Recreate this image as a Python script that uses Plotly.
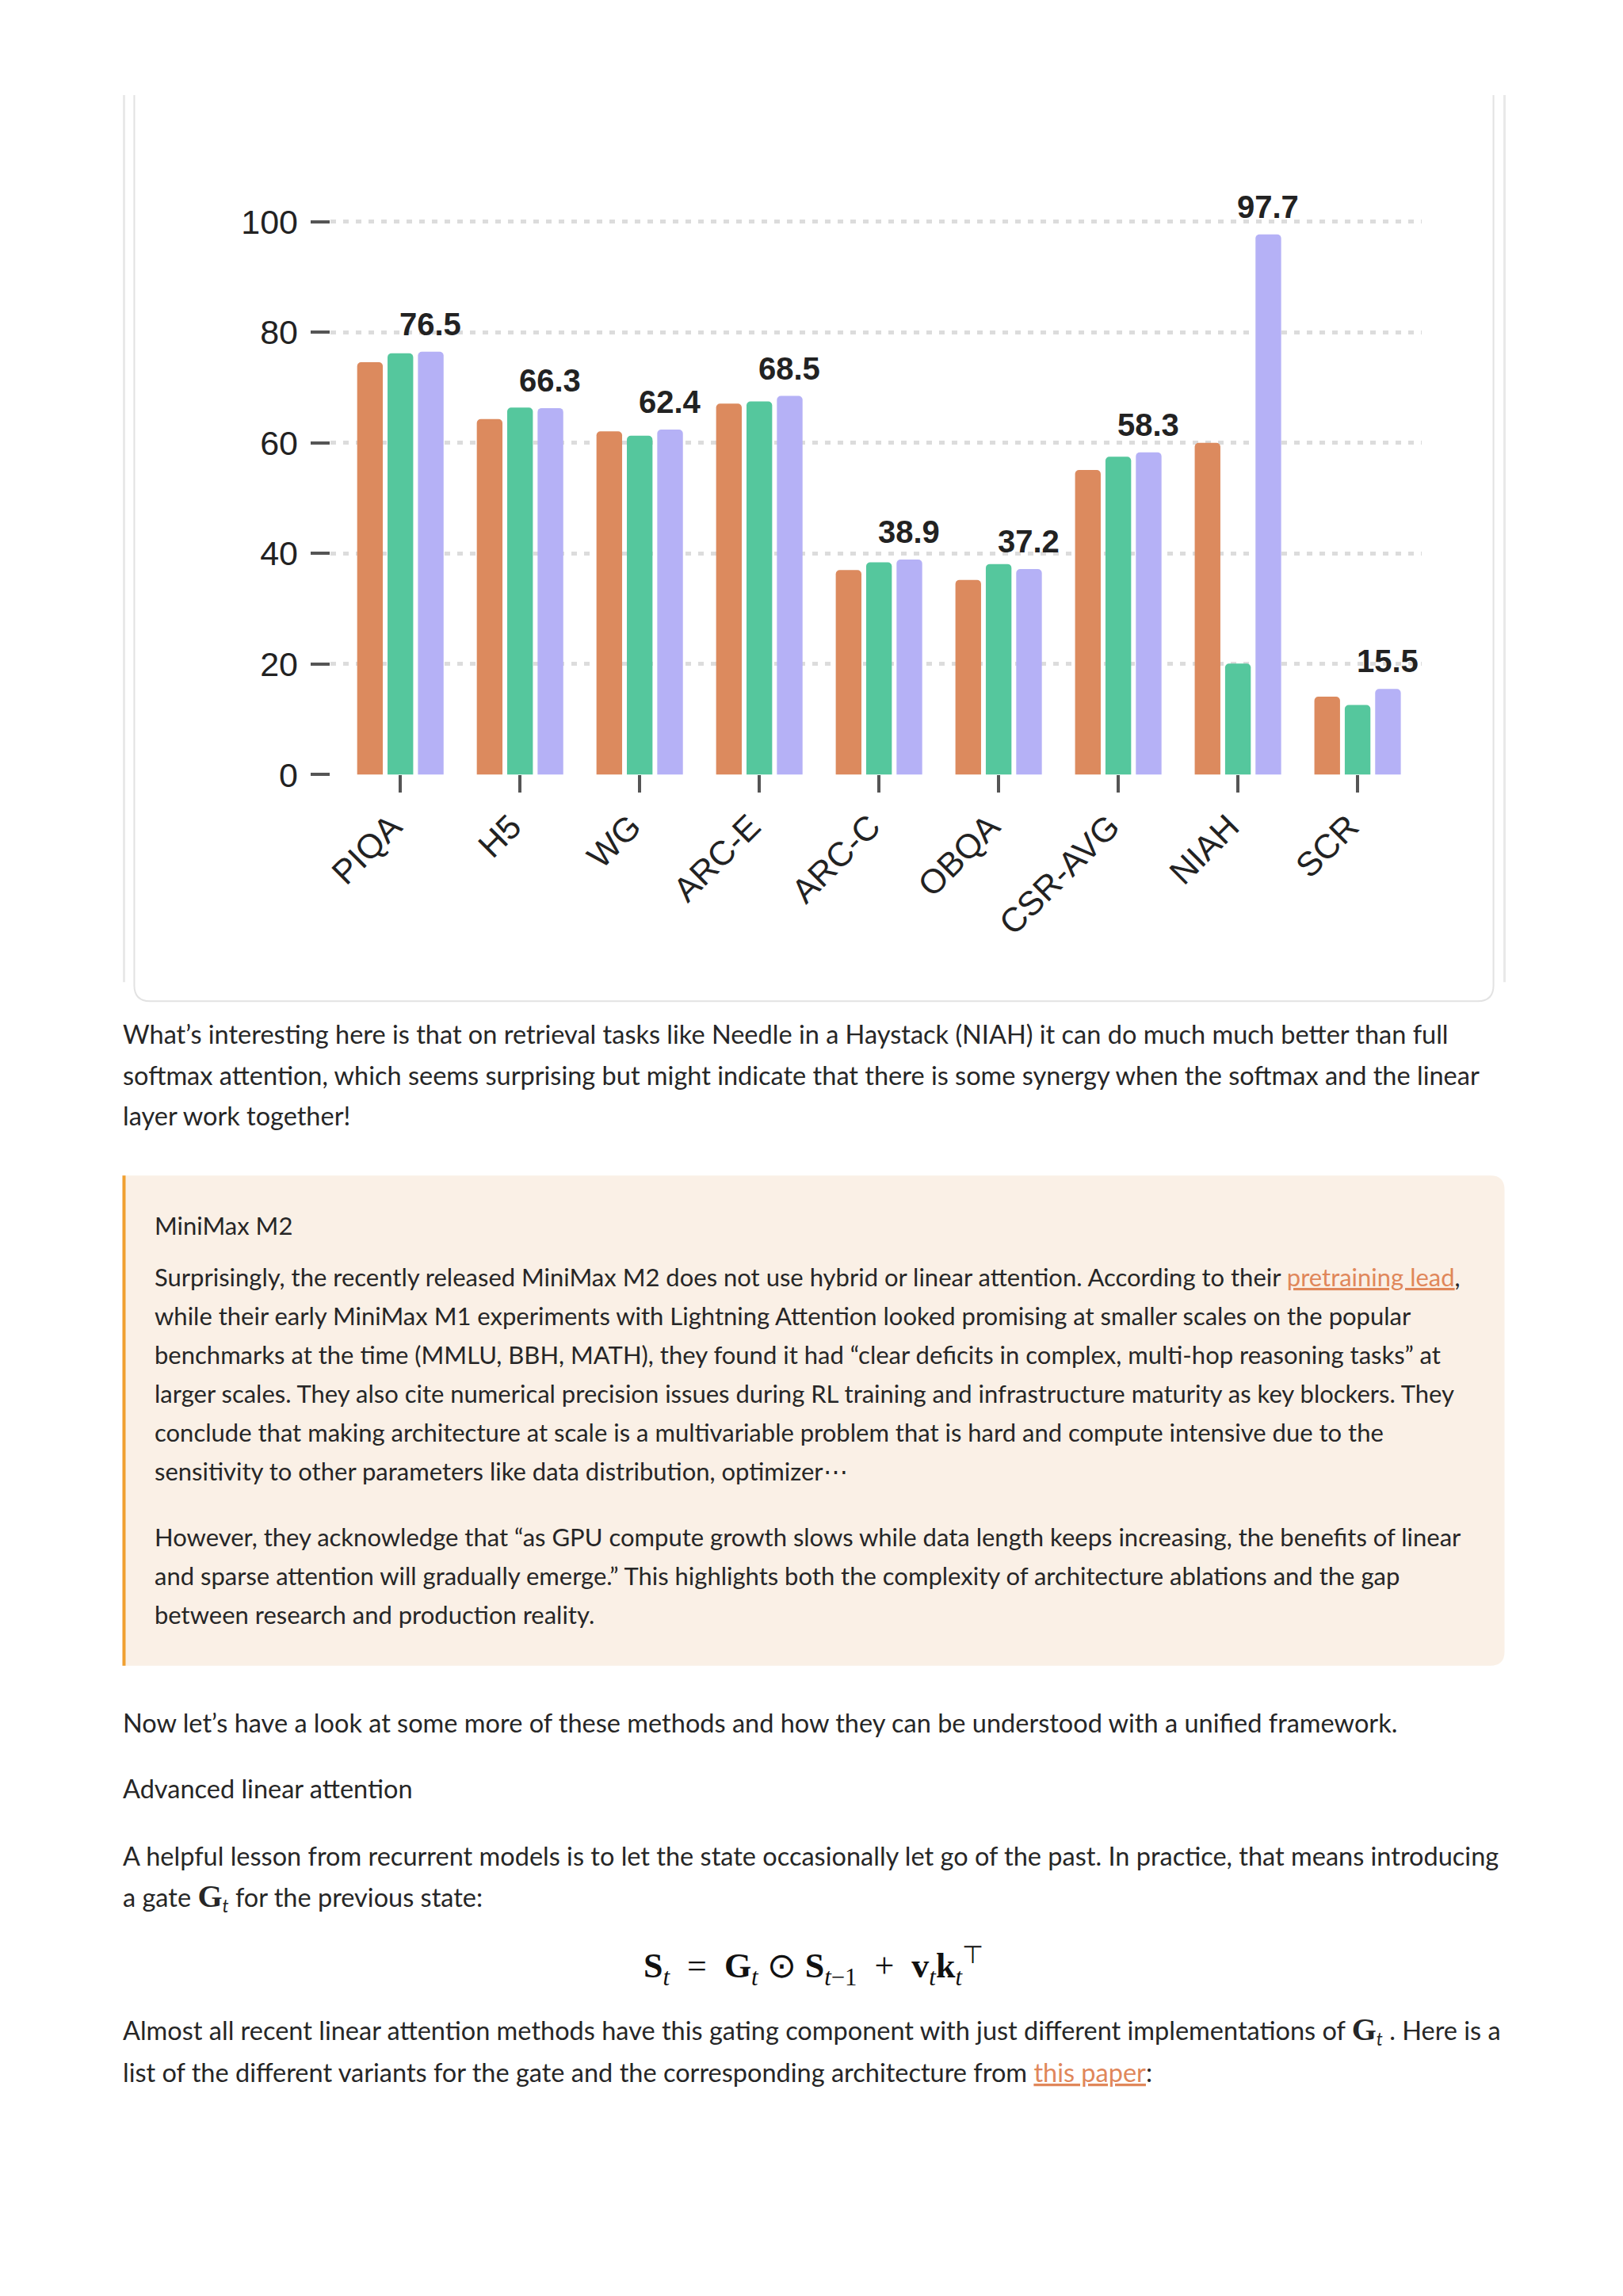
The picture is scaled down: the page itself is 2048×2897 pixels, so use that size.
import plotly.graph_objects as go

# ---------------- data ----------------
categories = ["PIQA", "H5", "WG", "ARC-E", "ARC-C", "OBQA", "CSR-AVG", "NIAH", "SCR"]
series_orange = [74.6, 64.3, 62.1, 67.1, 37.0, 35.2, 55.1, 60.0, 14.1]
series_green = [76.2, 66.4, 61.3, 67.5, 38.4, 38.1, 57.5, 20.1, 12.6]
series_purple = [76.5, 66.3, 62.4, 68.5, 38.9, 37.2, 58.3, 97.7, 15.5]
y_ticks = [0, 20, 40, 60, 80, 100]

W, H = 2048, 2897
KY = 1.0078  # vertical calibration
ORANGE = "#DC8A5E"
GREEN = "#55C79D"
PURPLE = "#B5B1F6"
TEXT = "#262626"
LINK = "#E0875A"
BODY_FONT = "Lato"
BODY_SIZE = 32.5
BOX_SIZE = 31


def px(x):
    return x / W


def py(y):
    return 1 - y * KY / H


fig = go.Figure()
for name, vals, col in [("orange", series_orange, ORANGE),
                        ("green", series_green, GREEN),
                        ("purple", series_purple, PURPLE)]:
    fig.add_trace(go.Bar(x=categories, y=vals, name=name, marker=dict(color=col, line=dict(width=0)),
                         hoverinfo="x+y"))

# value labels on purple series
for c, v in zip(categories, series_purple):
    fig.add_annotation(x=c, y=v, xref="x", yref="y", text=f"{v:.1f}", showarrow=False,
                       xanchor="center", yanchor="bottom", xshift=38, yshift=11,
                       font=dict(family="Liberation Sans", size=40, color="#222222", weight="bold"))

shapes = []
# card outline (outer faint lines + inner border)
shapes.append(dict(type="line", xref="paper", yref="paper", x0=px(150), x1=px(150), y0=py(120), y1=py(1240),
                   line=dict(color="#E9E9E9", width=3), layer="below"))
shapes.append(dict(type="line", xref="paper", yref="paper", x0=px(1898), x1=px(1898), y0=py(120), y1=py(1240),
                   line=dict(color="#E9E9E9", width=3), layer="below"))
card = (f"M {px(163)},{py(120)} L {px(163)},{py(1244)} Q {px(163)},{py(1264)} {px(183)},{py(1264)} "
        f"L {px(1864)},{py(1264)} Q {px(1884)},{py(1264)} {px(1884)},{py(1244)} L {px(1884)},{py(120)}")
shapes.append(dict(type="path", xref="paper", yref="paper", path=card,
                   line=dict(color="#E2E2E2", width=2), layer="below"))
# callout box
box = (f"M {px(148)},{py(1484)} L {px(1880)},{py(1484)} Q {px(1898)},{py(1484)} {px(1898)},{py(1502)} "
       f"L {px(1898)},{py(2085)} Q {px(1898)},{py(2103)} {px(1880)},{py(2103)} L {px(148)},{py(2103)} Z")
shapes.append(dict(type="path", xref="paper", yref="paper", path=box, fillcolor="#FAF0E6",
                   line=dict(width=0), layer="below"))
shapes.append(dict(type="rect", xref="paper", yref="paper", x0=px(148), x1=px(152), y0=py(1484), y1=py(2103),
                   fillcolor="#F0A030", line=dict(width=0), layer="below"))


def link(t):
    return (f"<span style='color:{LINK};text-decoration:underline;"
            f"text-decoration-color:#BBBBBB'>{t}</span>")


def G():
    return ("<span style='font-family:Liberation Serif;font-weight:bold;font-size:40px'>G</span>"
            "<sub><i>t</i></sub>")


para = [
    (147, 1305, "What’s interesting here is that on retrieval tasks like Needle in a Haystack (NIAH) it can do much much better than full"),
    (147, 1357, "softmax attention, which seems surprising but might indicate that there is some synergy when the softmax and the linear"),
    (147, 1408, "layer work together!"),
    (147, 2175, "Now let’s have a look at some more of these methods and how they can be understood with a unified framework."),
    (147, 2258, "Advanced linear attention"),
    (147, 2343, "A helpful lesson from recurrent models is to let the state occasionally let go of the past. In practice, that means introducing"),
    (147, 2395, "a gate " + G() + " for the previous state:"),
    (147, 2563, "Almost all recent linear attention methods have this gating component with just different implementations of "
     + G() + " . Here is a"),
    (147, 2616, "list of the different variants for the gate and the corresponding architecture from " + link("this paper") + ":"),
]
callout = [
    (187, 1547, "MiniMax M2"),
    (187, 1612, "Surprisingly, the recently released MiniMax M2 does not use hybrid or linear attention. According to their "
     + link("pretraining lead") + ","),
    (187, 1661, "while their early MiniMax M1 experiments with Lightning Attention looked promising at smaller scales on the popular"),
    (187, 1710, "benchmarks at the time (MMLU, BBH, MATH), they found it had “clear deficits in complex, multi-hop reasoning tasks” at"),
    (187, 1759, "larger scales. They also cite numerical precision issues during RL training and infrastructure maturity as key blockers. They"),
    (187, 1808, "conclude that making architecture at scale is a multivariable problem that is hard and compute intensive due to the"),
    (187, 1857, "sensitivity to other parameters like data distribution, optimizer⋯"),
    (187, 1940, "However, they acknowledge that “as GPU compute growth slows while data length keeps increasing, the benefits of linear"),
    (187, 1989, "and sparse attention will gradually emerge.” This highlights both the complexity of architecture ablations and the gap"),
    (187, 2038, "between research and production reality."),
]
for lines, size in [(para, BODY_SIZE), (callout, BOX_SIZE)]:
    for x, y, t in lines:
        fig.add_annotation(x=px(x), y=py(y), xref="paper", yref="paper", text=t, showarrow=False,
                           xanchor="left", yanchor="middle", align="left",
                           font=dict(family=BODY_FONT, size=size, color=TEXT))

nb = "\u00a0"
eq = (f"<b>S</b><sub><i>t</i></sub>{nb*2}={nb*2}<b>G</b><sub><i>t</i></sub> ⊙ <b>S</b><sub><i>t</i>−1</sub>"
      f"{nb*2}+{nb*2}<b>v</b><sub><i>t</i></sub><b>k</b><sub><i>t</i></sub><sup>⊤</sup>")
fig.add_annotation(x=px(1023), y=py(2482), xref="paper", yref="paper", text=eq, showarrow=False,
                   xanchor="center", yanchor="middle",
                   font=dict(family="Liberation Serif", size=44, color="#111111"))

fig.update_layout(
    width=W, height=H, autosize=False,
    margin=dict(l=0, r=0, t=0, b=0),
    paper_bgcolor="white", plot_bgcolor="white",
    showlegend=False,
    barmode="group", bargap=0.238, bargroupgap=0.156, barcornerradius=5,
    shapes=shapes,
    xaxis=dict(domain=[px(411), px(1793)], type="category", range=[-0.587, 8.535],
               showgrid=False, zeroline=False, showline=False,
               ticks="outside", ticklen=22, tickwidth=4, tickcolor="#555555",
               tickangle=-45, ticklabelshift=-11,
               tickfont=dict(family="Liberation Sans", size=43, color="#222222")),
    yaxis=dict(domain=[py(978), py(245)], range=[0, 105], tickvals=y_ticks,
               showgrid=True, gridcolor="#DCDCDC", gridwidth=5, griddash="7px,9px",
               zeroline=False, showline=False,
               ticks="outside", ticklen=24, tickwidth=4, tickcolor="#555555", ticklabelstandoff=7,
               tickfont=dict(family="Liberation Sans", size=43, color="#222222")),
)

fig.write_html("out.html", config={"displayModeBar": False},
               post_script="document.body.style.margin='0';document.documentElement.style.overflow='hidden';")
